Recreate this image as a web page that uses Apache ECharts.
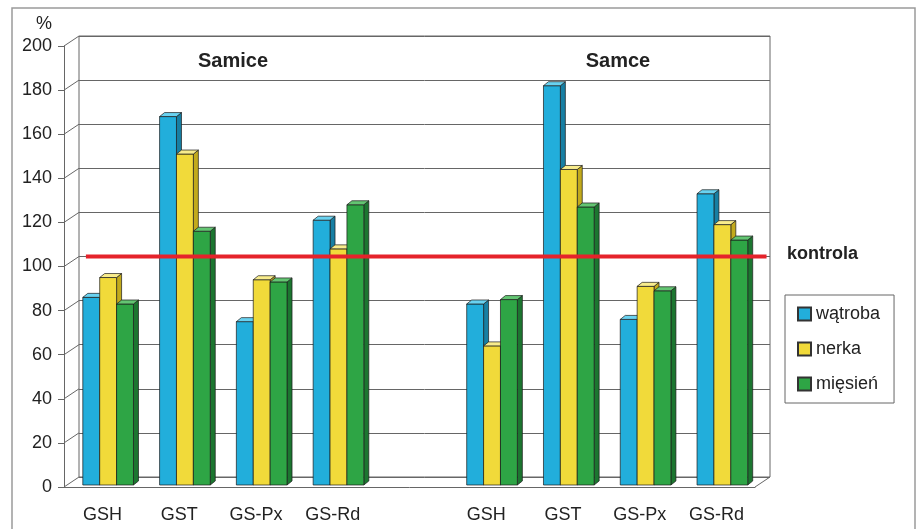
<!DOCTYPE html>
<html><head><meta charset="utf-8">
<script src="https://cdn.jsdelivr.net/npm/echarts@6/dist/echarts.min.js"></script>
<style>html,body{margin:0;padding:0;background:#fff;}#c{width:919px;height:529px;}</style>
</head><body><div id="c"></div>
<script>
// ---- data ----
const categories = ['GSH', 'GST', 'GS-Px', 'GS-Rd', '', 'GSH', 'GST', 'GS-Px', 'GS-Rd'];
const seriesNames = ['wątroba', 'nerka', 'mięsień'];
const watroba = [86, 168, 75, 121, null, 83, 182, 76, 133];
const nerka   = [95, 151, 94, 108, null, 64, 144, 91, 119];
const miesien = [83, 116, 93, 128, null, 85, 127, 89, 112];
const kontrola = 100;
const yMin = 0, yMax = 200, yStep = 20;
const groupTitles = ['Samice', 'Samce'];
const kontrolaLabel = 'kontrola';

// ---- style / layout ----
const FONT = 'Liberation Sans, Arial, sans-serif';
const F = { left: 64, top: 46, width: 691, height: 441 };
const DX = 15, DY = -10;
const palette = [
  { front: '#22aedb', side: '#177fa3', top: '#69d2f0' },
  { front: '#f1da3a', side: '#c2aa1c', top: '#f8ec8c' },
  { front: '#2ea545', side: '#1c7630', top: '#63c572' }
];
const allValues = [watroba, nerka, miesien];

function makeRender(si) {
  return function (params, api) {
    const cat = api.value(0), v = api.value(1);
    const base = api.coord([cat, 0]);
    const top = api.coord([cat, v]);
    const bw = api.size([1, 0])[0];
    const w = bw * 0.22;
    const x0 = base[0] - 1.5 * w + bw * 0.075 + si * w;
    const x1 = x0 + w;
    const yt = top[1], yb = base[1] - 2;
    const dx = 5, dy = -4;
    const c = palette[si];
    const st = { stroke: '#1b1b1b', lineWidth: 0.7 };
    return {
      type: 'group',
      children: [
        { type: 'polygon', shape: { points: [[x1, yt], [x1 + dx, yt + dy], [x1 + dx, yb + dy], [x1, yb]] },
          style: Object.assign({ fill: c.side }, st) },
        { type: 'rect', shape: { x: x0, y: yt, width: w, height: yb - yt },
          style: Object.assign({ fill: c.front }, st) },
        { type: 'polygon', shape: { points: [[x0, yt], [x1, yt], [x1 + dx, yt + dy], [x0 + dx, yt + dy]] },
          style: Object.assign({ fill: c.top }, st) }
      ]
    };
  };
}

const barSeries = allValues.map((vals, si) => ({
  name: seriesNames[si],
  type: 'custom',
  xAxisIndex: 0, yAxisIndex: 0,
  renderItem: makeRender(si),
  encode: { x: 0, y: 1 },
  itemStyle: { color: palette[si].front, borderColor: '#333', borderWidth: 0.6 },
  data: vals.map((v, i) => (v == null ? null : [i, v])).filter(d => d),
  z: 3
}));

const chart = echarts.init(document.getElementById('c'), null, { renderer: 'canvas' });
chart.setOption({
  animation: false,
  backgroundColor: '#ffffff',
  textStyle: { fontFamily: FONT },
  grid: [
    { left: F.left, top: F.top, width: F.width, height: F.height, containLabel: false },
    { left: F.left + DX, top: F.top + DY, width: F.width, height: F.height, show: true,
      borderColor: '#666', borderWidth: 1, backgroundColor: 'transparent' }
  ],
  xAxis: [
    { type: 'category', gridIndex: 0, data: categories,
      axisLine: { lineStyle: { color: '#666', width: 1 } },
      axisTick: { length: 7, lineStyle: { color: '#666' } },
      axisLabel: { interval: 0, fontSize: 18, color: '#222', margin: 19, fontFamily: FONT },
      splitLine: { show: false } },
    { type: 'value', gridIndex: 1, min: 0, max: 1, show: false }
  ],
  yAxis: [
    { type: 'value', gridIndex: 0, min: yMin, max: yMax, interval: yStep,
      axisLine: { show: true, lineStyle: { color: '#666', width: 1 } },
      axisTick: { show: true, length: 6, lineStyle: { color: '#666' } },
      axisLabel: { fontSize: 18, color: '#222', margin: 12, fontFamily: FONT },
      splitLine: { show: false } },
    { type: 'value', gridIndex: 1, min: yMin, max: yMax, interval: yStep,
      axisLine: { show: false }, axisTick: { show: false }, axisLabel: { show: false },
      splitLine: { show: true, lineStyle: { color: '#666', width: 1 } } }
  ],
  legend: {
    data: seriesNames, orient: 'vertical', left: 785, top: 295,
    icon: 'rect', itemWidth: 13, itemHeight: 13, itemGap: 17,
    padding: [10, 14, 10, 12], borderColor: '#666', borderWidth: 1,
    textStyle: { fontSize: 18, color: '#222', fontFamily: FONT }
  },
  series: barSeries.concat([{
    type: 'line', xAxisIndex: 1, yAxisIndex: 1, silent: true,
    data: [[0.01, kontrola], [0.995, kontrola]], symbol: 'none',
    lineStyle: { color: '#e5232b', width: 4 }, z: 10
  }])
});

// decorative 3D frame lines & texts
const ticks = [];
for (let v = yMin; v <= yMax; v += yStep) ticks.push(v);
const g = [];
g.push({ type: 'rect', shape: { x: 12, y: 8, width: 903, height: 540 }, style: { fill: 'none', stroke: '#9a9a9a', lineWidth: 1.5 }, z: 0 });
ticks.forEach(v => {
  const y = chart.convertToPixel({ yAxisIndex: 0 }, v);
  g.push({ type: 'line', shape: { x1: F.left, y1: y, x2: F.left + DX, y2: y + DY }, style: { stroke: '#666', lineWidth: 1 }, z: 1 });
});
const y0 = chart.convertToPixel({ yAxisIndex: 0 }, yMin);
g.push({ type: 'line', shape: { x1: F.left + F.width, y1: y0, x2: F.left + F.width + DX, y2: y0 + DY }, style: { stroke: '#666', lineWidth: 1 }, z: 1 });
const yTop = chart.convertToPixel({ yAxisIndex: 0 }, yMax);
g.push({ type: 'text', x: 44, y: yTop - 22, style: { text: '%', font: '18px ' + FONT, fill: '#222', textAlign: 'center', textVerticalAlign: 'middle' }, z: 5 });
g.push({ type: 'text', x: 233, y: 61, style: { text: groupTitles[0], font: 'bold 20px ' + FONT, fill: '#222', textAlign: 'center', textVerticalAlign: 'middle' }, z: 5 });
g.push({ type: 'text', x: 618, y: 61, style: { text: groupTitles[1], font: 'bold 20px ' + FONT, fill: '#222', textAlign: 'center', textVerticalAlign: 'middle' }, z: 5 });
const yK = chart.convertToPixel({ yAxisIndex: 1 }, kontrola);
g.push({ type: 'text', x: 787, y: yK - 2, style: { text: kontrolaLabel, font: 'bold 18px ' + FONT, fill: '#222', textAlign: 'left', textVerticalAlign: 'middle' }, z: 5 });
chart.setOption({ graphic: g });
</script>
</body></html>
